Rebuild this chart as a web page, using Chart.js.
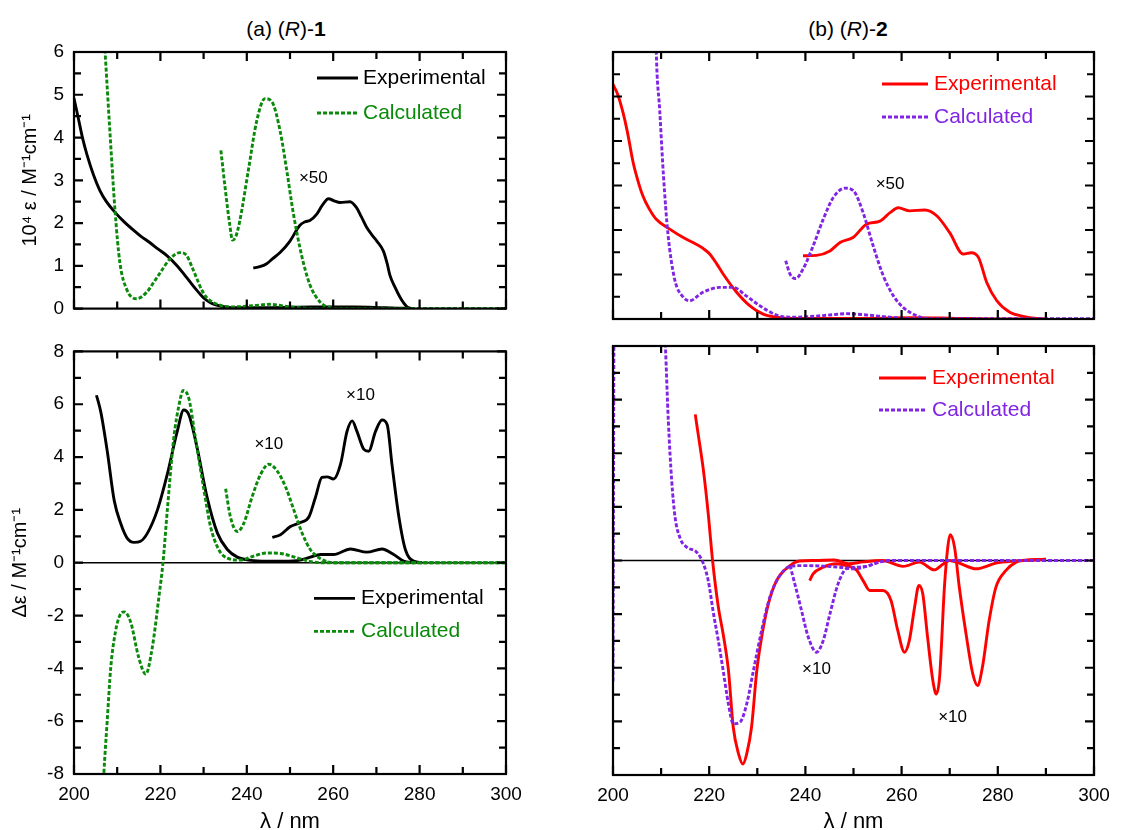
<!DOCTYPE html>
<html>
<head>
<meta charset="utf-8">
<script src="https://cdn.jsdelivr.net/npm/chart.js@4.4.1/dist/chart.umd.min.js"></script>
<style>
html, body { margin: 0; padding: 0; background: #fff; overflow: hidden; }
#page { position: relative; width: 1128px; height: 830px; overflow: hidden; font-family: "Liberation Sans", Arial, sans-serif; }
canvas { position: absolute; }
.ttl { position: absolute; top: 17px; width: 300px; text-align: center; font-size: 21px; line-height: 24px; color: #000; }
</style>
</head>
<body>
<div id="page">
  <div class="ttl" style="left:136px">(a) (<i>R</i>)-<b>1</b></div>
  <div class="ttl" style="left:698px">(b) (<i>R</i>)-<b>2</b></div>
  <canvas id="absR1" width="560" height="330" style="left:0;top:0"></canvas>
  <canvas id="absR2" width="568" height="330" style="left:560px;top:0"></canvas>
  <canvas id="cdR1" width="560" height="510" style="left:0;top:330px"></canvas>
  <canvas id="cdR2" width="568" height="510" style="left:560px;top:330px"></canvas>
</div>
<script>
// wavelength range (nm)
const waveMin = 200;
const waveMax = 300;

// (a) (R)-1 absorption, 10^4 eps
const absR1Exp = [[200,4.92],[201,4.45],[202,3.98],[203,3.6],[204.5,3.13],[206,2.76],[207.5,2.5],[209.5,2.25],[211.5,2.04],[213.7,1.84],[215.5,1.69],[217.6,1.54],[219.5,1.39],[221.5,1.24],[223.8,1.01],[225.5,0.8],[226.9,0.62],[228.5,0.42],[229.9,0.26],[231.5,0.14],[233,0.08],[235,0.04],[237,0.02],[245,0.02],[255,0.04],[265,0.04],[272,0.02],[276,0.01],[278,0]];
const absR1Exp50 = [[241.5,0.95],[243,0.98],[244.6,1.05],[246,1.17],[247.7,1.31],[250,1.58],[252.3,1.95],[253.5,2.03],[254.6,2.06],[256.2,2.21],[257.5,2.42],[258.9,2.57],[260.2,2.52],[261.6,2.48],[263.9,2.5],[265.4,2.36],[266.5,2.15],[267.7,1.91],[269,1.72],[270.1,1.58],[271.6,1.35],[272.5,1.05],[273.1,0.79],[274.3,0.5],[275.5,0.26],[277,0.05],[278.2,0]];
const absR1Calc = [[205.5,9],[207.2,6.0],[208.3,4.16],[209.5,2.29],[210.6,1.09],[212.2,0.45],[214.5,0.23],[216.8,0.38],[218.5,0.62],[219.9,0.83],[222.2,1.16],[224.5,1.31],[226.1,1.24],[227.2,1.0],[228.4,0.71],[229.5,0.45],[230.7,0.26],[233.8,0.08],[236.9,0.04],[241.5,0.07],[245.4,0.1],[249.2,0.05],[252.3,0.02],[256,0],[300,0]];
const absR1Calc50 = [[234,3.7],[235,2.81],[236,2.0],[236.7,1.6],[237.5,1.7],[238.4,2.06],[240.4,3.26],[242.3,4.39],[244.2,4.91],[245.8,4.84],[247.7,4.16],[249.2,3.26],[250.8,2.21],[252.7,1.24],[254.6,0.56],[257,0.15],[259.3,0.02],[261.6,0],[300,0]];

// (b) (R)-2 absorption, 10^4 eps
const absR2Exp = [[200,5.27],[201,5.04],[202.1,4.63],[203,4.2],[204.2,3.51],[205.2,3.1],[206.2,2.77],[207.5,2.48],[209,2.24],[211.8,2.02],[214.6,1.83],[217.3,1.68],[218.8,1.58],[220.1,1.46],[221.5,1.25],[222.9,1.01],[225.7,0.6],[228.4,0.3],[231.2,0.11],[234,0.04],[236.8,0.01],[250,0.01],[262,0.03],[270,0.02],[280,0],[290,0]];
const absR2Exp50 = [[239.5,1.42],[242.3,1.43],[245.1,1.53],[247.2,1.72],[249.9,1.83],[252.7,2.13],[255.5,2.2],[257.6,2.39],[259.3,2.5],[261.7,2.43],[264.8,2.45],[267.3,2.32],[270,1.94],[272.8,1.46],[274.5,1.49],[276,1.38],[277.7,0.82],[279.8,0.41],[282.5,0.15],[285.3,0.06],[288.1,0.01],[289.5,0]];
const absR2Calc = [[208.5,9],[209,6],[209.7,4.71],[210.5,3.21],[211.4,1.94],[212.8,0.9],[214.6,0.49],[215.9,0.41],[218.7,0.6],[222.2,0.71],[225,0.71],[227.7,0.52],[230.5,0.3],[234,0.09],[236.8,0.04],[240.2,0.05],[245.1,0.09],[248.5,0.12],[252.7,0.09],[257.6,0.04],[261.7,0.01],[265,0],[300,0]];
const absR2Calc50 = [[235.9,1.31],[236.8,1.01],[238,0.91],[239.5,1.12],[241.6,1.64],[243.7,2.24],[245.8,2.73],[248.2,2.94],[250,2.88],[252,2.39],[254.1,1.64],[256.2,0.97],[258.3,0.52],[260.3,0.26],[262.8,0.09],[265.2,0.01],[267,0],[300,0]];

// (a) (R)-1 CD, delta eps
const cdR1Exp = [[205.2,6.34],[206.2,5.71],[207.7,4.22],[209.3,2.36],[210.8,1.49],[212.3,0.93],[213.9,0.77],[215.4,0.81],[217,1.12],[219.3,1.99],[221.6,3.35],[223.9,4.97],[225.4,5.78],[226.6,5.59],[228.5,4.35],[230.8,2.48],[233.2,1.12],[235.5,0.5],[237.8,0.21],[240.9,0.09],[244.7,0.06],[248.6,0.06],[252.4,0.1],[254.7,0.21],[257.1,0.31],[260.1,0.31],[264,0.52],[267.8,0.4],[271.3,0.52],[274,0.31],[276.3,0.06],[278.6,0]];
const cdR1Exp10 = [[245.9,0.96],[247.8,1.06],[250.1,1.37],[252.4,1.52],[254.4,1.74],[255.9,2.48],[257.4,3.23],[258.6,3.25],[260.1,3.17],[261.7,3.73],[263.2,4.97],[264.4,5.37],[265.5,4.97],[267.1,4.29],[268.2,4.22],[269.8,4.97],[271.3,5.4],[272.5,5.22],[273.6,3.73],[275.2,1.74],[276.7,0.5],[278.6,0.06],[280.6,0]];
const cdR1Calc = [[206.3,-10],[206.9,-8],[207.7,-5.96],[208.5,-3.98],[209.6,-2.61],[210.6,-2.0],[211.6,-1.86],[213.1,-2.24],[215,-3.6],[216.6,-4.22],[218.1,-3.23],[219.7,-1.24],[220.6,0],[221.6,1.99],[223.1,4.72],[224.3,5.96],[225.3,6.52],[226.6,6.21],[228.1,4.72],[230.1,2.73],[231.6,1.37],[233.5,0.5],[235.5,0.17],[238.6,0.1],[241.6,0.25],[244.7,0.37],[247.8,0.35],[250.9,0.22],[254,0.07],[257.1,0],[300,0]];
const cdR1Calc10 = [[235.1,2.8],[236.2,1.74],[237.8,1.18],[239.3,1.49],[241.2,2.48],[243.2,3.35],[245.1,3.73],[247,3.48],[249,2.86],[250.9,1.99],[252.8,1.12],[254.7,0.5],[257.1,0.15],[260.1,0],[300,0]];

// (b) (R)-2 CD, delta eps
const cdR2Exp = [[217.1,5.45],[217.8,4.6],[218.8,3.36],[219.8,1.74],[220.7,0],[221.9,-1.74],[222.9,-2.74],[224,-4.1],[225,-6.22],[226.1,-7.21],[227,-7.59],[227.8,-7.21],[228.8,-6.22],[229.9,-4.1],[230.9,-2.86],[232.3,-1.62],[234,-0.75],[236.8,-0.19],[238.8,-0.02],[242,0],[246,0.02],[249,-0.12],[252,-0.05],[256,0],[260.3,-0.22],[263.7,-0.06],[266.8,-0.35],[268.5,-0.15],[270,0],[272,-0.1],[275.5,-0.31],[279.6,-0.1],[283.8,-0.02],[290,0.05]];
const cdR2Exp10 = [[240.9,-0.75],[241.6,-0.5],[243.7,-0.25],[246.4,-0.12],[248.5,-0.19],[250.6,-0.35],[252,-0.75],[253.4,-1.12],[256.1,-1.12],[257.8,-1.49],[259.2,-2.61],[260.6,-3.42],[261.6,-2.99],[262.7,-1.74],[263.6,-0.93],[264.4,-1.24],[265.4,-2.86],[266.5,-4.48],[267.2,-4.98],[267.9,-4.35],[268.9,-1.0],[269.6,0.5],[270.1,0.96],[271,0.5],[272,-1.0],[273.4,-2.74],[274.8,-4.23],[275.8,-4.66],[276.8,-3.98],[278.2,-2.24],[279.6,-1.0],[281.7,-0.37],[283.8,-0.06],[285.1,0],[290,0.05]];
const cdR2Calc = [[200,-4.5],[200.3,12],[210,12],[210.9,8],[211.5,5.22],[212.2,2.99],[212.9,1.62],[214,0.81],[215.3,0.5],[217.4,0.31],[218.8,-0.12],[219.8,-0.75],[220.9,-1.99],[221.9,-2.99],[222.9,-4.1],[224,-5.35],[225,-6.09],[226.4,-6.03],[227.8,-5.35],[229.2,-4.1],[230.9,-2.61],[232.6,-1.37],[234.7,-0.56],[236.8,-0.22],[239.5,-0.19],[243.7,-0.21],[247.1,-0.25],[249.9,-0.31],[252.7,-0.22],[255.4,-0.06],[257.5,0],[300,0]];
const cdR2Calc10 = [[236.8,-0.19],[237.8,-0.87],[239.2,-1.87],[240.6,-2.86],[242.3,-3.42],[243.7,-2.99],[245.1,-1.99],[246.8,-0.87],[248.5,-0.31],[250.6,-0.25],[252.7,-0.22],[255.4,-0.06],[257.5,0],[300,0]];

const FONT = '"Liberation Sans", Arial, sans-serif';
const BLACK = '#000000';
const GREEN = '#0a8a0a';
const RED = '#ff0000';
const PURPLE = '#8224e3';
const LINE_W = 2.9;

function series(points, color, dashed) {
    return {
        data: points.map(p => ({x: p[0], y: p[1]})),
        borderColor: color,
        borderWidth: LINE_W,
        borderDash: dashed ? [4, 2] : [],
        pointRadius: 0,
        fill: false,
        cubicInterpolationMode: 'monotone'
    };
}

// frame, inward ticks on all sides and the zero line
const frameTicks = {
    id: 'frameTicks',
    beforeDatasetsDraw(chart, args, o) {
        if (!o.zeroLine) return;
        const {ctx, chartArea: a, scales: {y}} = chart;
        const py = y.getPixelForValue(0);
        ctx.save();
        ctx.strokeStyle = BLACK;
        ctx.lineWidth = 1.5;
        ctx.beginPath();
        ctx.moveTo(a.left, py);
        ctx.lineTo(a.right, py);
        ctx.stroke();
        ctx.restore();
    },
    afterDatasetsDraw(chart, args, o) {
        const {ctx, chartArea: a, scales: {x, y}} = chart;
        ctx.save();
        ctx.strokeStyle = BLACK;
        ctx.lineWidth = 2.2;
        ctx.beginPath();
        for (let v = waveMin; v <= waveMax; v += 10) {
            const px = x.getPixelForValue(v);
            const len = (v % 20 === 0) ? 9 : 7;
            ctx.moveTo(px, a.top); ctx.lineTo(px, a.top + len);
            ctx.moveTo(px, a.bottom); ctx.lineTo(px, a.bottom - len);
        }
        for (let v = y.min; v <= y.max + 1e-9; v += o.yMinor) {
            const py = y.getPixelForValue(v);
            const major = Math.abs(v / o.yMajor - Math.round(v / o.yMajor)) < 1e-6;
            const len = major ? 9 : 7;
            ctx.moveTo(a.left, py); ctx.lineTo(a.left + len, py);
            ctx.moveTo(a.right, py); ctx.lineTo(a.right - len, py);
        }
        ctx.stroke();
        ctx.strokeRect(a.left, a.top, a.right - a.left, a.bottom - a.top);
        ctx.restore();
    }
};

// legend boxes and scale-factor notes
const panelText = {
    id: 'panelText',
    afterDraw(chart, args, o) {
        const {ctx, chartArea: a, scales: {x, y}} = chart;
        ctx.save();
        ctx.textBaseline = 'middle';
        o.legend.forEach(item => {
            ctx.strokeStyle = item.color;
            ctx.lineWidth = LINE_W;
            ctx.setLineDash(item.dashed ? [4, 2] : []);
            ctx.beginPath();
            ctx.moveTo(a.left + o.legendX[0], a.top + item.dy);
            ctx.lineTo(a.left + o.legendX[1], a.top + item.dy);
            ctx.stroke();
            ctx.setLineDash([]);
            ctx.fillStyle = item.textColor;
            ctx.font = '21px ' + FONT;
            ctx.textAlign = 'left';
            ctx.fillText(item.label, a.left + o.legendX[2], a.top + item.dy);
        });
        ctx.fillStyle = BLACK;
        ctx.font = '17px ' + FONT;
        ctx.textAlign = 'center';
        o.notes.forEach(n => {
            ctx.fillText(n.text, x.getPixelForValue(n.x), y.getPixelForValue(n.y));
        });
        ctx.restore();
    }
};

function makePanel(id, p) {
    const ctx = document.getElementById(id).getContext('2d');
    return new Chart(ctx, {
        type: 'line',
        data: { datasets: p.datasets },
        options: {
            responsive: false,
            animation: false,
            layout: { padding: p.padding },
            plugins: {
                legend: { display: false },
                tooltip: { enabled: false },
                frameTicks: { zeroLine: p.zeroLine, yMajor: p.yStep, yMinor: p.yStep / 2 },
                panelText: { legend: p.legend, legendX: p.legendX, notes: p.notes }
            },
            scales: {
                x: {
                    type: 'linear', min: waveMin, max: waveMax,
                    grid: { display: false, drawTicks: false },
                    border: { display: false },
                    ticks: { display: p.showX, stepSize: 20, padding: 9, color: BLACK, font: { family: FONT, size: 19 } },
                    title: { display: p.showX, text: 'λ / nm', color: BLACK, font: { family: FONT, size: 22 }, padding: { top: 0, bottom: 5 } },
                    afterFit: s => { s.height = p.xHeight; }
                },
                y: {
                    min: p.yMin, max: p.yMax,
                    grid: { display: false, drawTicks: false },
                    border: { display: false },
                    ticks: { display: p.showY, stepSize: p.yStep, padding: 10, color: BLACK, font: { family: FONT, size: 19 } },
                    title: { display: !!p.yTitle, text: p.yTitle, color: BLACK, font: { family: FONT, size: 20 }, padding: { top: p.yTitlePad, bottom: 0 } },
                    afterFit: s => { s.width = p.yWidth; }
                }
            }
        },
        plugins: [frameTicks, panelText]
    });
}

makePanel('absR1', {
    datasets: [
        series(absR1Calc, GREEN, true), series(absR1Calc50, GREEN, true),
        series(absR1Exp, BLACK, false), series(absR1Exp50, BLACK, false)
    ],
    padding: { left: 0, top: 52, right: 54, bottom: 0 },
    yWidth: 74, xHeight: 12, yMin: 0, yMax: 6, yStep: 1,
    showX: false, showY: true, yTitle: '10⁴ ε / M⁻¹cm⁻¹', yTitlePad: 18, zeroLine: false,
    legendX: [243, 284, 289],
    legend: [
        { label: 'Experimental', color: BLACK, textColor: BLACK, dashed: false, dy: 26 },
        { label: 'Calculated', color: GREEN, textColor: GREEN, dashed: true, dy: 61 }
    ],
    notes: [{ text: '×50', x: 255.4, y: 3.05 }]
});

makePanel('absR2', {
    datasets: [
        series(absR2Calc, PURPLE, true), series(absR2Calc50, PURPLE, true),
        series(absR2Exp, RED, false), series(absR2Exp50, RED, false)
    ],
    padding: { left: 0, top: 52, right: 34, bottom: 0 },
    yWidth: 53, xHeight: 11, yMin: 0, yMax: 6, yStep: 1,
    showX: false, showY: false, yTitle: '', yTitlePad: 0, zeroLine: false,
    legendX: [269, 315, 321],
    legend: [
        { label: 'Experimental', color: RED, textColor: RED, dashed: false, dy: 32 },
        { label: 'Calculated', color: PURPLE, textColor: PURPLE, dashed: true, dy: 65 }
    ],
    notes: [{ text: '×50', x: 257.6, y: 3.03 }]
});

makePanel('cdR1', {
    datasets: [
        series(cdR1Calc, GREEN, true), series(cdR1Calc10, GREEN, true),
        series(cdR1Exp, BLACK, false), series(cdR1Exp10, BLACK, false)
    ],
    padding: { left: 0, top: 15, right: 54, bottom: 0 },
    yWidth: 74, xHeight: 66, yMin: -8, yMax: 8, yStep: 2,
    showX: true, showY: true, yTitle: 'Δε / M⁻¹cm⁻¹', yTitlePad: 8, zeroLine: true,
    legendX: [240, 281, 287],
    legend: [
        { label: 'Experimental', color: BLACK, textColor: BLACK, dashed: false, dy: 247 },
        { label: 'Calculated', color: GREEN, textColor: GREEN, dashed: true, dy: 280 }
    ],
    notes: [{ text: '×10', x: 245.1, y: 4.47 }, { text: '×10', x: 266.3, y: 6.34 }]
});

makePanel('cdR2', {
    datasets: [
        series(cdR2Calc, PURPLE, true), series(cdR2Calc10, PURPLE, true),
        series(cdR2Exp, RED, false), series(cdR2Exp10, RED, false)
    ],
    padding: { left: 0, top: 16, right: 34, bottom: 0 },
    yWidth: 53, xHeight: 65, yMin: -8, yMax: 8, yStep: 2,
    showX: true, showY: false, yTitle: '', yTitlePad: 0, zeroLine: true,
    legendX: [266, 313, 319],
    legend: [
        { label: 'Experimental', color: RED, textColor: RED, dashed: false, dy: 32 },
        { label: 'Calculated', color: PURPLE, textColor: PURPLE, dashed: true, dy: 64 }
    ],
    notes: [{ text: '×10', x: 242.3, y: -4.04 }, { text: '×10', x: 270.6, y: -5.85 }]
});
</script>
</body>
</html>
